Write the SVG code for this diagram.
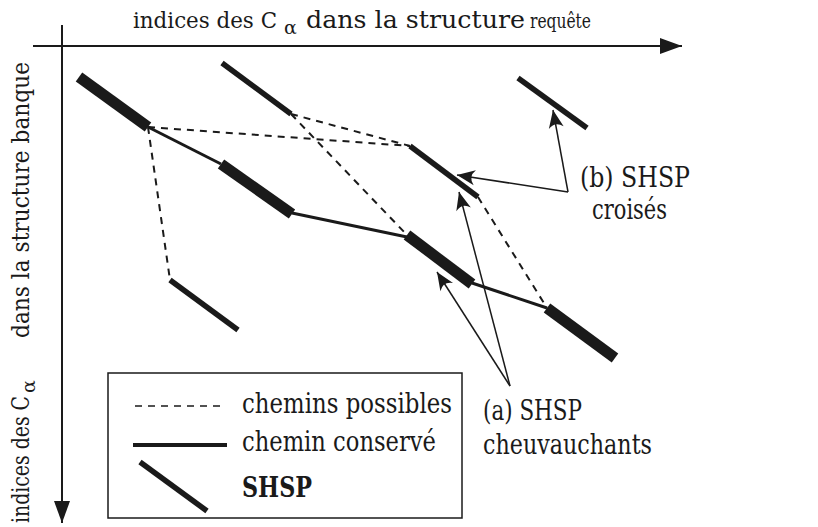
<svg xmlns="http://www.w3.org/2000/svg" width="818" height="527" viewBox="0 0 818 527">
<style>
  text { font-family: "DejaVu Serif", serif; fill: #1a1a1a; }
  .axis { stroke: #1a1a1a; stroke-width: 2; fill: none; }
  .thick { stroke: #1a1a1a; stroke-width: 11; stroke-linecap: butt; }
  .thin { stroke: #1a1a1a; stroke-width: 5.5; stroke-linecap: butt; }
  .kept { stroke: #1a1a1a; stroke-width: 3; fill: none; }
  .dash { stroke: #1a1a1a; stroke-width: 2; stroke-dasharray: 7 6; fill: none; }
  .ptr { stroke: #1a1a1a; stroke-width: 1.5; fill: none; marker-end: url(#barb); }
</style>
<defs>
  <marker id="axhead" markerUnits="userSpaceOnUse" markerWidth="30" markerHeight="20" refX="0" refY="0" viewBox="-24 -10 30 20" orient="auto">
    <path d="M0,0 L-22,-8 L-22,8 Z" fill="#1a1a1a"/>
  </marker>
  <marker id="barb" markerUnits="userSpaceOnUse" markerWidth="24" markerHeight="20" refX="0" refY="0" viewBox="-20 -10 24 20" orient="auto">
    <path d="M0,0 L-18,-7.5 Q-11,0 -18,7.5 Z" fill="#1a1a1a"/>
  </marker>
</defs>

<g id="axes">
  <line class="axis" x1="33" y1="46" x2="682" y2="46" marker-end="url(#axhead)"/>
  <line class="axis" x1="62" y1="25" x2="62" y2="523" marker-end="url(#axhead)"/>
  <text font-size="23"><tspan x="133" y="28" textLength="144" lengthAdjust="spacingAndGlyphs">indices des C</tspan><tspan x="284" y="34" font-size="19">α</tspan><tspan x="306" y="28" font-size="24" textLength="219" lengthAdjust="spacingAndGlyphs">dans la structure</tspan><tspan x="530" y="28" font-size="21" textLength="61" lengthAdjust="spacingAndGlyphs">requête</tspan></text>
  <g transform="translate(29,523) rotate(-90)">
    <text font-size="24"><tspan x="0" y="0" textLength="127" lengthAdjust="spacingAndGlyphs">indices des C</tspan><tspan x="130" y="6" font-size="19">α</tspan><tspan x="185" y="0" textLength="276" lengthAdjust="spacingAndGlyphs">dans la structure banque</tspan></text>
  </g>
</g>

<g id="connectors">
  <polyline class="kept" points="148,127 221,164"/>
  <polyline class="kept" points="292,213 407,237"/>
  <polyline class="kept" points="472,283 547,308"/>
  <line class="dash" x1="148" y1="127" x2="170" y2="280"/>
  <line class="dash" x1="148" y1="127" x2="410" y2="146"/>
  <line class="dash" x1="291" y1="114" x2="410" y2="146"/>
  <line class="dash" x1="291" y1="114" x2="407" y2="235"/>
  <line class="dash" x1="478" y1="197" x2="547" y2="308"/>
  <line class="ptr" x1="568" y1="192" x2="553" y2="110"/>
  <line class="ptr" x1="568" y1="192" x2="457" y2="175"/>
  <line class="ptr" x1="510" y1="386" x2="437" y2="272"/>
  <line class="ptr" x1="510" y1="386" x2="459" y2="192"/>
</g>

<g id="shsp-a"><line class="thick" x1="79" y1="77" x2="148" y2="127"/></g>
<g id="shsp-b"><line class="thin" x1="222" y1="63" x2="291" y2="114"/></g>
<g id="shsp-c"><line class="thick" x1="221" y1="164" x2="292" y2="214"/></g>
<g id="shsp-d"><line class="thin" x1="170" y1="280" x2="238" y2="330"/></g>
<g id="shsp-e"><line class="thin" x1="410" y1="146" x2="478" y2="197"/></g>
<g id="shsp-f"><line class="thick" x1="407" y1="235" x2="472" y2="284"/></g>
<g id="shsp-g"><line class="thick" x1="547" y1="308" x2="615" y2="358"/></g>
<g id="shsp-h"><line class="thin" x1="518" y1="78" x2="587" y2="128"/></g>

<g id="label-b">
  <text x="580" y="187" font-size="27" textLength="110" lengthAdjust="spacingAndGlyphs">(b) SHSP</text>
  <text x="592" y="219" font-size="27" textLength="75" lengthAdjust="spacingAndGlyphs">croisés</text>
</g>
<g id="label-a">
  <text x="483" y="420" font-size="27" textLength="99" lengthAdjust="spacingAndGlyphs">(a) SHSP</text>
  <text x="483" y="454" font-size="27" textLength="169" lengthAdjust="spacingAndGlyphs">cheuvauchants</text>
</g>

<g id="legend">
  <rect x="108" y="373" width="354" height="145" fill="none" stroke="#1a1a1a" stroke-width="1.5"/>
  <line x1="135" y1="406" x2="225" y2="406" stroke="#1a1a1a" stroke-width="1.5" stroke-dasharray="7 6"/>
  <line x1="133" y1="445" x2="227" y2="445" stroke="#1a1a1a" stroke-width="4"/>
  <line class="thin" x1="140" y1="462" x2="207" y2="511"/>
  <text x="242" y="413" font-size="27" textLength="210" lengthAdjust="spacingAndGlyphs">chemins possibles</text>
  <text x="242" y="451" font-size="27" textLength="194" lengthAdjust="spacingAndGlyphs">chemin conservé</text>
  <text x="242" y="497" font-size="27" font-weight="bold" textLength="70" lengthAdjust="spacingAndGlyphs">SHSP</text>
</g>
</svg>
